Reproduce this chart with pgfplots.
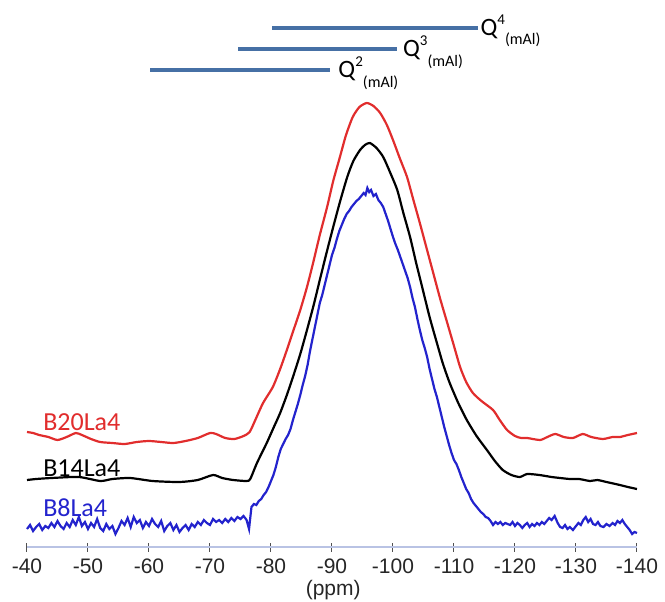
\documentclass[border=0pt]{standalone}
\usepackage{pgfplots}
\pgfplotsset{compat=1.18}
\usepackage{fontspec}
\setmainfont{Carlito}
\newfontfamily\arialfont{Liberation Sans}
\definecolor{axblue}{RGB}{185,195,228}
\definecolor{tickgray}{RGB}{80,80,80}
\definecolor{qblue}{RGB}{70,112,165}
\definecolor{cred}{RGB}{225,45,45}
\definecolor{cblue}{RGB}{35,35,205}
\begin{document}
\begin{tikzpicture}
\begin{axis}[
  width=305pt, height=270pt, scale only axis,
  xmin=-140, xmax=-40, ymin=0, ymax=540,
  x dir=reverse, clip=false,
  axis x line*=bottom, axis y line=none,
  x axis line style={-, color=axblue, line width=0.8pt},
  xtick={-40,-50,-60,-70,-80,-90,-100,-110,-120,-130,-140},
  xticklabels={-40,-50,-60,-70,-80,-90,-100,-110,-120,-130,-140},
  tick align=center, major tick length=4.5pt,
  tick style={color=tickgray, line width=0.5pt},
  xticklabel style={font=\arialfont\fontsize{10.5}{12}\selectfont, text=black!85},
]
\coordinate (bbsw) at (rel axis cs:0,0);
\coordinate (bbne) at (rel axis cs:1,1);

% Q bars
\addplot[qblue, line width=1.8pt] coordinates {(-80.2,519) (-113.9,519)};
\addplot[qblue, line width=1.8pt] coordinates {(-74.6,498) (-100.7,498)};
\addplot[qblue, line width=1.8pt] coordinates {(-60.2,477) (-89.7,477)};

% B20La4
\addplot[cred, line width=1.1pt, smooth, tension=0.4] coordinates {
(-40,115) (-41,114) (-42,112) (-43.5,110) (-45,107) (-46.5,110) (-48,114) (-49,112)
(-50.5,108) (-52,105) (-54,104) (-56,103) (-58,105) (-60,106) (-62,105) (-64,104)
(-66,106) (-68,109) (-70,114) (-71,113) (-72.5,109) (-74,108) (-75.5,111) (-76.5,115)
(-77.5,128) (-78.7,144) (-80.3,160) (-81.5,178) (-82.6,197) (-83.7,217) (-84.8,237)
(-85.9,260) (-86.9,284) (-88,312) (-89.2,340) (-90.2,366) (-91.3,390) (-92.3,412)
(-93.4,430) (-94.5,440) (-95.7,444) (-96.8,441) (-97.9,434) (-99,422) (-100.0,407)
(-101.1,389) (-102.3,370) (-103.3,348) (-104.4,324) (-105.5,299) (-106.6,274)
(-107.7,249) (-108.9,224) (-110,201) (-111.0,180) (-112,165) (-113.1,154) (-114.5,146)
(-116.4,137) (-117.5,127) (-118.7,117) (-120,111) (-121,109) (-122,109) (-124.1,107)
(-125.3,110) (-126.6,113) (-128,110) (-129.5,109) (-131.1,113) (-132.5,110)
(-134.4,108) (-136,110) (-137.2,110) (-138.5,112) (-140,114)};

% B14La4
\addplot[black, line width=1.1pt, smooth, tension=0.4] coordinates {
(-40,67) (-41.5,68) (-44,69) (-48.5,70) (-52,66) (-54,68) (-56.9,69) (-60.6,66)
(-65,65) (-68,67) (-70.5,72) (-72,69) (-73.8,67) (-76,66) (-76.6,68) (-77.7,84)
(-79.3,104) (-80.4,119) (-81.5,134) (-82.6,152) (-83.6,170) (-84.8,193) (-85.9,217)
(-87,242) (-88.0,267) (-89.1,294) (-90.2,320) (-91.3,345) (-92.5,370) (-93.5,386)
(-94.6,397) (-95.4,402) (-96.2,404) (-97.3,399) (-98.4,390) (-99.5,375) (-100.7,357)
(-101.7,334) (-102.8,310) (-103.8,284) (-104.9,257) (-106,230) (-107.2,204)
(-108.2,183) (-109.3,164) (-110.7,144) (-112.1,127) (-113.7,111) (-115.4,97)
(-116.7,86) (-118.0,77) (-119.4,72) (-120.8,70) (-122,73) (-124,72) (-126,70)
(-127.4,69) (-129,68) (-130.5,68) (-132.3,66) (-133.5,67) (-135,65) (-137.2,62)
(-138.5,60) (-140,58)};

% B8La4
\addplot[cblue, line width=1.1pt] coordinates {
(-40,18) (-40.5,22) (-41,16) (-41.5,20) (-42,23) (-42.5,17) (-43,21) (-43.5,19)
(-44,24) (-44.5,20) (-45,26) (-45.5,21) (-46,18) (-46.5,24) (-47,20) (-47.5,27)
(-48,22) (-48.5,30) (-49,21) (-49.5,25) (-50,18) (-50.5,24) (-51,20) (-51.5,28)
(-52,19) (-52.5,16) (-53,23) (-53.5,18) (-54,21) (-54.5,13) (-55,19) (-55.5,26)
(-56,22) (-56.5,29) (-57,20) (-57.5,30) (-58,24) (-58.5,27) (-59,19) (-59.5,25)
(-60,21) (-60.5,28) (-61,23) (-61.5,20) (-62,26) (-62.5,16) (-63,21) (-63.5,24)
(-64,17) (-64.5,22) (-65,15) (-65.5,19) (-66,22) (-66.5,17) (-67,23) (-67.5,20)
(-68,25) (-68.5,22) (-69,27) (-69.5,24) (-70,22) (-70.5,28) (-71,25) (-71.5,27)
(-72,24) (-72.5,28) (-73,25) (-73.5,29) (-74,26) (-74.5,30) (-75,28) (-75.5,31)
(-76,27) (-76.4,18) (-76.8,40) (-77.2,43) (-77.6,42) (-78.0,46) (-78.4,48)
(-78.8,52) (-79.2,55) (-79.6,60) (-80.0,66) (-80.4,72) (-80.8,80) (-81.2,90)
(-81.6,98) (-82.0,103) (-82.4,108) (-82.8,112) (-83.2,118) (-83.6,127) (-84.0,135)
(-84.4,143) (-84.8,152) (-85.2,162) (-85.6,171) (-86.0,182) (-86.4,196) (-86.8,208)
(-87.2,220) (-87.6,232) (-88.0,244) (-88.4,252) (-88.8,262) (-89.2,272) (-89.6,282)
(-90.0,292) (-90.4,299) (-90.8,308) (-91.2,316) (-91.6,322) (-92.0,328) (-92.4,333)
(-92.8,336) (-93.2,340) (-93.6,343) (-94.0,346) (-94.4,348) (-94.8,351) (-95.2,354)
(-95.5,352) (-95.8,359) (-96.1,355) (-96.4,357) (-96.8,351) (-97.2,353) (-97.6,347)
(-98.0,344) (-98.4,340) (-98.8,333) (-99.2,326) (-99.6,318) (-100.0,310)
(-100.4,303) (-100.8,297) (-101.2,290) (-101.6,283) (-102.0,276) (-102.4,269)
(-102.8,260) (-103.2,249) (-103.6,240) (-104.0,228) (-104.4,217) (-104.8,207)
(-105.2,199) (-105.6,190) (-106.0,178) (-106.4,168) (-106.8,158) (-107.2,150)
(-107.6,140) (-108.0,130) (-108.4,120) (-108.8,111) (-109.2,102) (-109.6,94)
(-110.0,87) (-110.4,83) (-110.8,77) (-111.2,70) (-111.6,64) (-112.0,58)
(-112.4,54) (-112.8,48) (-113.2,44) (-113.6,41) (-114.0,38) (-114.4,35)
(-114.8,33) (-115.2,30) (-115.6,29) (-116.0,26) (-116.4,22) (-116.8,25)
(-117.2,23) (-117.6,25) (-118.0,22) (-118.4,24) (-118.8,23) (-119.2,22)
(-119.6,25) (-120.0,21) (-120.4,24) (-120.8,22) (-121.2,19) (-121.6,22)
(-122.0,24) (-122.4,20) (-122.8,23) (-123.2,21) (-123.6,24) (-124.0,22)
(-124.4,25) (-124.8,23) (-125.2,26) (-125.6,29) (-126.0,27) (-126.5,31)
(-127.0,24) (-127.4,20) (-127.8,19) (-128.2,22) (-128.6,18) (-129.0,20)
(-129.5,17) (-130.0,21) (-130.4,24) (-130.8,22) (-131.2,27) (-131.6,30)
(-132.0,25) (-132.4,28) (-132.8,23) (-133.2,22) (-133.6,25) (-134.0,21)
(-134.5,20) (-135.0,23) (-135.5,21) (-136.0,24) (-136.4,22) (-136.8,26)
(-137.2,24) (-137.6,27) (-138.0,23) (-138.4,20) (-138.8,17) (-139.2,13)
(-139.6,15) (-140,14)};

% labels
\node[anchor=west, inner sep=0pt, text=cred, font=\fontsize{13}{15}\selectfont] at (axis cs:-42.6,125) {B20La4};
\node[anchor=west, inner sep=0pt, text=black, font=\fontsize{13}{15}\selectfont] at (axis cs:-42.6,79) {B14La4};
\node[anchor=west, inner sep=0pt, text=cblue, font=\fontsize{13}{15}\selectfont] at (axis cs:-42.6,39) {B8La4};

\node[anchor=base west, inner sep=0pt, font=\fontsize{12.5}{15}\selectfont] at (axis cs:-114.3,512)
  {Q\raisebox{0.42em}{\fontsize{7.5}{9}\selectfont 4}\raisebox{-0.4em}{\fontsize{8}{9}\selectfont (mAl)}};
\node[anchor=base west, inner sep=0pt, font=\fontsize{12.5}{15}\selectfont] at (axis cs:-101.6,491)
  {Q\raisebox{0.42em}{\fontsize{7.5}{9}\selectfont 3}\raisebox{-0.4em}{\fontsize{8}{9}\selectfont (mAl)}};
\node[anchor=base west, inner sep=0pt, font=\fontsize{12.5}{15}\selectfont] at (axis cs:-91.0,470)
  {Q\raisebox{0.42em}{\fontsize{7.5}{9}\selectfont 2}\raisebox{-0.4em}{\fontsize{8}{9}\selectfont (mAl)}};

\node[font=\arialfont\fontsize{10.5}{12}\selectfont, text=black!85] at (axis cs:-90.2,-43) {(ppm)};
\end{axis}
\pgfresetboundingbox
\path ([xshift=-13.5pt,yshift=-27pt]bbsw) rectangle ([xshift=14pt,yshift=3.5pt]bbne);
\end{tikzpicture}
\end{document}
